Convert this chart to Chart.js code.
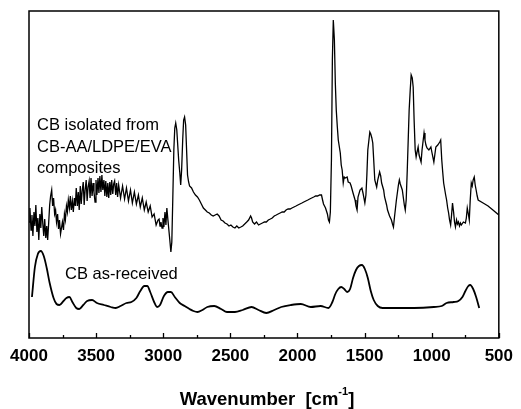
<!DOCTYPE html>
<html>
<head>
<meta charset="utf-8">
<script src="https://cdn.jsdelivr.net/npm/chart.js@4"></script>
<style>
  html, body { margin: 0; padding: 0; background: #fff; }
  #wrap { width: 521px; height: 409px; }
</style>
</head>
<body>
<div id="wrap"><canvas id="ftir" width="521" height="409"></canvas></div>
<script>
// FTIR spectra, wavenumber in cm-1, intensity in arbitrary units (offset traces)
const tickValues = [4000, 3500, 3000, 2500, 2000, 1500, 1000, 500];

const isolatedWavenumber = [
  4000, 3993, 3985, 3978, 3971, 3963, 3956, 3949, 3941, 3934, 3927, 3919, 3912, 3905, 3897, 3890,
  3883, 3875, 3868, 3861, 3853, 3846, 3839, 3831, 3824, 3817, 3809, 3802, 3795, 3787, 3780, 3773,
  3765, 3758, 3751, 3743, 3736, 3729, 3721, 3714, 3707, 3699, 3692, 3685, 3677, 3670, 3662, 3655,
  3648, 3640, 3633, 3626, 3618, 3611, 3604, 3596, 3589, 3582, 3574, 3567, 3560, 3552, 3545, 3538,
  3530, 3523, 3516, 3508, 3501, 3494, 3486, 3479, 3472, 3464, 3457, 3450, 3442, 3435, 3428, 3420,
  3413, 3406, 3398, 3391, 3384, 3376, 3369, 3362, 3354, 3347, 3340, 3332, 3318, 3303, 3288, 3274,
  3259, 3244, 3230, 3215, 3200, 3185, 3171, 3156, 3141, 3127, 3112, 3097, 3083, 3068, 3053, 3039,
  3031, 3024, 3017, 3009, 3002, 2995, 2987, 2980, 2973, 2965, 2958, 2951, 2943, 2936, 2929, 2921,
  2914, 2907, 2899, 2892, 2885, 2877, 2870, 2863, 2855, 2848, 2841, 2833, 2826, 2819, 2811, 2804,
  2789, 2775, 2760, 2745, 2731, 2716, 2701, 2686, 2672, 2657, 2642, 2628, 2613, 2598, 2584, 2569,
  2554, 2540, 2525, 2510, 2496, 2481, 2466, 2452, 2437, 2422, 2408, 2393, 2378, 2364, 2349, 2342,
  2334, 2320, 2305, 2290, 2276, 2261, 2246, 2232, 2217, 2202, 2188, 2173, 2158, 2144, 2129, 2114,
  2099, 2085, 2070, 2055, 2041, 2026, 2011, 1997, 1982, 1967, 1953, 1938, 1923, 1909, 1894, 1879,
  1865, 1850, 1835, 1821, 1813, 1806, 1791, 1777, 1769, 1762, 1755, 1747, 1740, 1733, 1725, 1718,
  1711, 1703, 1696, 1681, 1674, 1667, 1659, 1652, 1644, 1630, 1622, 1608, 1600, 1586, 1571, 1564,
  1556, 1549, 1534, 1520, 1512, 1498, 1490, 1483, 1476, 1461, 1454, 1446, 1439, 1432, 1424, 1410,
  1402, 1388, 1380, 1373, 1358, 1351, 1336, 1329, 1314, 1300, 1292, 1285, 1278, 1263, 1248, 1241,
  1234, 1219, 1204, 1197, 1190, 1182, 1175, 1168, 1160, 1153, 1145, 1138, 1131, 1123, 1116, 1109,
  1101, 1094, 1079, 1072, 1057, 1050, 1043, 1035, 1021, 1006, 999, 984, 977, 969, 955, 940,
  933, 925, 918, 911, 896, 889, 881, 874, 867, 859, 852, 845, 837, 830, 823, 815,
  808, 801, 793, 786, 779, 764, 749, 742, 735, 727, 720, 713, 705, 698, 691, 683,
  676, 669, 661, 654, 617, 580, 544, 500
];
const isolatedIntensity = [
  116, 130, 108, 123, 102, 126, 112, 133, 106, 120, 98, 124, 110, 131, 114, 102,
  119, 100, 112, 98, 116, 133, 142, 148, 132, 140, 124, 128, 116, 124, 109, 118,
  104, 110, 116, 108, 124, 118, 132, 126, 138, 130, 142, 128, 137, 126, 140, 132,
  150, 132, 146, 128, 152, 134, 147, 156, 133, 148, 158, 137, 151, 157, 140, 160,
  142, 155, 146, 136, 158, 143, 160, 145, 162, 146, 163, 148, 158, 142, 157, 141,
  155, 140, 156, 143, 158, 144, 154, 157, 143, 155, 141, 153, 140, 152, 139, 150,
  137, 148, 135, 146, 134, 143, 131, 140, 128, 136, 126, 132, 121, 124, 113, 118,
  119, 112, 116, 110, 120, 111, 126, 113, 130, 118, 108, 98, 86, 96, 138, 188,
  210, 215, 208, 193, 178, 166, 153, 168, 198, 218, 221, 213, 188, 163, 156, 152,
  150, 146, 143, 141, 138, 134, 130, 128, 126, 125, 123, 122, 123, 124, 122, 118,
  117, 115, 114, 112, 113, 111, 110, 112, 110, 111, 112, 114, 116, 118, 122, 120,
  116, 114, 116, 113, 114, 115, 116, 116, 118, 119, 120, 122, 123, 124, 125, 126,
  126, 128, 129, 129, 130, 131, 132, 133, 134, 135, 136, 137, 138, 139, 140, 141,
  142, 142, 143, 143, 138, 134, 130, 124, 118, 116, 126, 178, 278, 318, 298, 255,
  228, 211, 198, 185, 173, 168, 155, 161, 160, 161, 156, 155, 152, 145, 138, 132,
  128, 141, 148, 150, 145, 135, 143, 163, 188, 206, 204, 200, 195, 178, 158, 151,
  158, 166, 162, 155, 148, 141, 133, 128, 122, 118, 114, 111, 120, 138, 153, 158,
  154, 148, 133, 128, 138, 168, 198, 228, 248, 263, 260, 251, 218, 188, 181, 186,
  191, 183, 176, 188, 205, 198, 193, 190, 188, 191, 186, 176, 183, 191, 193, 196,
  198, 178, 166, 155, 143, 138, 130, 125, 118, 113, 123, 135, 126, 116, 111, 118,
  114, 116, 112, 115, 113, 116, 115, 120, 130, 124, 118, 138, 155, 152, 158, 161,
  153, 148, 142, 138, 135, 132, 128, 123
];

const receivedWavenumber = [
  3978, 3956, 3934, 3912, 3890, 3868, 3846, 3817, 3795, 3773, 3743, 3721, 3699, 3677, 3648, 3626,
  3596, 3567, 3530, 3494, 3442, 3391, 3354, 3318, 3274, 3237, 3200, 3171, 3141, 3119, 3097, 3068,
  3046, 3024, 2995, 2965, 2943, 2914, 2877, 2841, 2804, 2775, 2745, 2708, 2672, 2620, 2569, 2525,
  2466, 2408, 2342, 2290, 2232, 2173, 2121, 2048, 1975, 1901, 1828, 1769, 1740, 1718, 1696, 1674,
  1652, 1630, 1608, 1586, 1564, 1542, 1520, 1498, 1476, 1454, 1432, 1402, 1366, 1278, 1131, 984,
  925, 889, 837, 801, 771, 749, 727, 713, 691, 669, 646
];
const receivedIntensity = [
  41, 71, 84, 87, 82, 70, 55, 40, 34, 33, 37, 40, 41, 36, 30, 29,
  33, 37, 38, 35, 33, 31, 30, 32, 35, 36, 40, 47, 52, 52, 46, 36,
  31, 33, 42, 46, 46, 41, 35, 32, 29, 27, 26, 28, 31, 32, 29, 26,
  26, 28, 31, 28, 25, 28, 31, 33, 34, 31, 32, 30, 36, 44, 49, 51,
  49, 46, 49, 60, 68, 72, 73, 69, 60, 47, 38, 32, 30, 30, 30, 31,
  32, 35, 36, 37, 41, 47, 52, 53, 49, 41, 30
];

const FONT = "'Liberation Sans', Arial, Helvetica, sans-serif";

function toPoints(xs, ys) {
  return xs.map((x, i) => ({ x, y: ys[i] }));
}

// frame, inward tick marks, trace labels and the axis title
const decorations = {
  id: 'decorations',
  afterDraw(chart) {
    const { ctx, chartArea: a, scales } = chart;
    const xs = scales.x;
    ctx.save();
    ctx.strokeStyle = '#000';
    ctx.lineWidth = 1.5;
    ctx.strokeRect(a.left, a.top, a.right - a.left, a.bottom - a.top);

    ctx.lineWidth = 1.3;
    for (let v = 4000; v >= 500; v -= 250) {
      const px = Math.round(xs.getPixelForValue(v)) + 0.5;
      const len = v % 500 === 0 ? 5 : 3;
      ctx.beginPath();
      ctx.moveTo(px, a.bottom);
      ctx.lineTo(px, a.bottom - len);
      ctx.stroke();
    }

    ctx.fillStyle = '#000';
    ctx.textBaseline = 'alphabetic';
    ctx.textAlign = 'left';
    ctx.font = `16.5px ${FONT}`;
    ctx.fillText('CB isolated from', 37, 130);
    ctx.fillText('CB-AA/LDPE/EVA', 37, 152);
    ctx.fillText('composites', 37, 173);
    ctx.fillText('CB as-received', 65, 279);

    // axis title with superscript
    const main = 'Wavenumber  [cm';
    const sup = '-1';
    const tail = ']';
    ctx.font = `bold 18.5px ${FONT}`;
    const wMain = ctx.measureText(main).width;
    const wTail = ctx.measureText(tail).width;
    ctx.font = `bold 11px ${FONT}`;
    const wSup = ctx.measureText(sup).width;
    let x = 267 - (wMain + wSup + wTail) / 2;
    const base = 405;
    ctx.font = `bold 18.5px ${FONT}`;
    ctx.fillText(main, x, base);
    x += wMain;
    ctx.font = `bold 11px ${FONT}`;
    ctx.fillText(sup, x, base - 10);
    x += wSup;
    ctx.font = `bold 18.5px ${FONT}`;
    ctx.fillText(tail, x, base);
    ctx.restore();
  }
};

new Chart(document.getElementById('ftir'), {
  type: 'line',
  data: {
    datasets: [
      {
        label: 'CB isolated from CB-AA/LDPE/EVA composites',
        data: toPoints(isolatedWavenumber, isolatedIntensity),
        borderColor: '#000',
        borderWidth: 1.3,
        pointRadius: 0,
        tension: 0,
        fill: false,
      },
      {
        label: 'CB as-received',
        data: toPoints(receivedWavenumber, receivedIntensity),
        borderColor: '#000',
        borderWidth: 1.8,
        pointRadius: 0,
        tension: 0.4,
        cubicInterpolationMode: 'monotone',
        fill: false,
      },
    ],
  },
  options: {
    responsive: false,
    animation: false,
    devicePixelRatio: 1,
    layout: { padding: { left: 29, right: 15, top: 11, bottom: 0 } },
    plugins: {
      legend: { display: false },
      tooltip: { enabled: false },
    },
    scales: {
      x: {
        type: 'linear',
        reverse: true,
        min: 500,
        max: 4000,
        grid: { display: false, drawTicks: false },
        border: { display: false },
        afterBuildTicks: (scale) => {
          scale.ticks = tickValues.map((value) => ({ value }));
        },
        afterFit: (scale) => {
          scale.height = 71;
        },
        ticks: {
          color: '#000',
          padding: 8,
          maxRotation: 0,
          autoSkip: false,
          font: { family: FONT, size: 17, weight: 'bold' },
          callback: (v) => String(v),
        },
      },
      y: {
        display: false,
        min: 0,
        max: 327,
      },
    },
  },
  plugins: [decorations],
});
</script>
</body>
</html>
